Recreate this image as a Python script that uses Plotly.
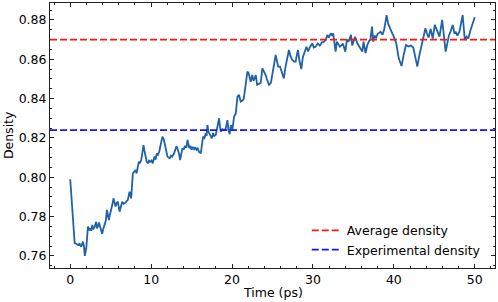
import plotly.graph_objects as go

time_ps = [
    0.0, 0.15, 0.3, 0.45, 0.55, 0.75, 0.95, 1.15, 1.36, 1.57, 1.7, 1.8, 1.98, 2.19, 2.35, 2.47, 2.6, 2.72, 2.85, 3.0,
    3.2, 3.3, 3.42, 3.55, 3.7, 3.95, 4.1, 4.24, 4.4, 4.53, 4.65, 4.78, 4.9, 5.06, 5.2, 5.35, 5.5, 5.6, 5.75, 5.89,
    6.1, 6.25, 6.42, 6.6, 6.84, 7.0, 7.12, 7.33, 7.45, 7.53, 7.74, 7.9, 8.07, 8.2, 8.35, 8.48, 8.6, 8.77, 8.9, 9.06,
    9.15, 9.3, 9.45, 9.6, 9.75, 9.88, 10.05, 10.2, 10.4, 10.55, 10.7, 10.85, 11.0, 11.2, 11.4, 11.55, 11.7, 11.85, 12.02, 12.15,
    12.3, 12.45, 12.6, 12.84, 12.95, 13.13, 13.3, 13.45, 13.58, 13.7, 13.87, 14.0, 14.2, 14.35, 14.5, 14.6, 14.7, 14.85, 15.0, 15.15,
    15.3, 15.45, 15.6, 15.75, 15.9, 16.14, 16.3, 16.42, 16.6, 16.75, 16.85, 16.96, 17.1, 17.3, 17.5, 17.65, 17.8, 17.99, 18.15, 18.4,
    18.5, 18.6, 18.8, 19.0, 19.2, 19.43, 19.55, 19.7, 19.85, 20.05, 20.25, 20.46, 20.67, 20.85, 21.07, 21.3, 21.45, 21.6, 21.75, 21.9,
    22.05, 22.2, 22.3, 22.5, 22.65, 22.8, 22.93, 23.1, 23.33, 23.54, 23.75, 23.95, 24.15, 24.3, 24.57, 24.8, 25.0, 25.18, 25.39, 25.55,
    25.7, 25.93, 26.2, 26.4, 26.6, 26.8, 27.03, 27.2, 27.4, 27.65, 27.86, 28.0, 28.15, 28.3, 28.56, 28.75, 28.95, 29.2, 29.4, 29.6,
    29.93, 30.1, 30.35, 30.6, 30.85, 31.1, 31.4, 31.6, 31.78, 31.95, 32.2, 32.4, 32.5, 32.65, 32.8, 32.95, 33.1, 33.33, 33.5, 33.7,
    34.0, 34.2, 34.4, 34.7, 34.85, 35.0, 35.2, 35.5, 35.8, 36.1, 36.25, 36.5, 36.7, 36.9, 37.1, 37.3, 37.45, 37.6, 37.8, 38.0,
    38.36, 38.6, 38.8, 39.1, 39.3, 39.55, 39.8, 40.0, 40.3, 40.6, 40.95, 41.2, 41.5, 41.8, 42.1, 42.4, 42.68, 42.9, 43.15, 43.4,
    43.6, 43.9, 44.1, 44.3, 44.55, 44.8, 45.06, 45.36, 45.64, 45.97, 46.15, 46.4, 46.6, 46.8, 47.0, 47.28, 47.5, 47.65, 47.85, 48.1,
    48.5, 48.77, 49.0, 49.2, 49.45, 49.65, 50.0,
]
density = [
    0.799, 0.790, 0.778, 0.769, 0.7665, 0.7662, 0.7656, 0.7662, 0.7647, 0.7673, 0.7650, 0.7600, 0.7639, 0.7749, 0.7730, 0.7741, 0.7728, 0.7758, 0.7735, 0.7746,
    0.7774, 0.7740, 0.7749, 0.7770, 0.7745, 0.7712, 0.7740, 0.7766, 0.7780, 0.7834, 0.7800, 0.7783, 0.7810, 0.7834, 0.7860, 0.7893, 0.7865, 0.7851, 0.7870, 0.7876,
    0.7825, 0.7850, 0.7876, 0.7865, 0.7871, 0.7880, 0.7885, 0.7927, 0.7900, 0.7893, 0.8020, 0.8030, 0.8037, 0.8020, 0.8050, 0.8079, 0.8070, 0.8088, 0.8120, 0.8164,
    0.8140, 0.8105, 0.8080, 0.8071, 0.8085, 0.8079, 0.8085, 0.8071, 0.8105, 0.8090, 0.8122, 0.8115, 0.8130, 0.8170, 0.8207, 0.8195, 0.8160, 0.8130, 0.8105, 0.8100,
    0.8097, 0.8110, 0.8105, 0.8122, 0.8140, 0.8159, 0.8140, 0.8120, 0.8088, 0.8110, 0.8148, 0.8140, 0.8160, 0.8150, 0.8190, 0.8170, 0.8148, 0.8160, 0.8140, 0.8155,
    0.8143, 0.8150, 0.8140, 0.8150, 0.8130, 0.8122, 0.8180, 0.8207, 0.8200, 0.8224, 0.8210, 0.8266, 0.8230, 0.8215, 0.8198, 0.8225, 0.8210, 0.8215, 0.8250, 0.8300,
    0.8260, 0.8232, 0.8245, 0.8240, 0.8245, 0.8291, 0.8240, 0.8220, 0.8265, 0.8244, 0.8308, 0.8325, 0.8410, 0.8420, 0.8385, 0.8390, 0.8400, 0.8444, 0.8500, 0.8537,
    0.8530, 0.8500, 0.8486, 0.8520, 0.8490, 0.8505, 0.8520, 0.8470, 0.8475, 0.8480, 0.8554, 0.8540, 0.8520, 0.8500, 0.8470, 0.8480, 0.8520, 0.8571, 0.8622, 0.8580,
    0.8563, 0.8563, 0.8520, 0.8503, 0.8560, 0.8610, 0.8647, 0.8620, 0.8600, 0.8588, 0.8588, 0.8620, 0.8647, 0.8600, 0.8550, 0.8610, 0.8640, 0.8664, 0.8640, 0.8660,
    0.8681, 0.8660, 0.8665, 0.8681, 0.8670, 0.8685, 0.8690, 0.8700, 0.8724, 0.8710, 0.8732, 0.8720, 0.8732, 0.8680, 0.8639, 0.8690, 0.8680, 0.8664, 0.8670, 0.8680,
    0.8639, 0.8700, 0.8690, 0.8724, 0.8670, 0.8690, 0.8715, 0.8680, 0.8660, 0.8639, 0.8690, 0.8631, 0.8670, 0.8690, 0.8700, 0.8766, 0.8690, 0.8720, 0.8710, 0.8730,
    0.8740, 0.8725, 0.8750, 0.8825, 0.8780, 0.8760, 0.8732, 0.8715, 0.8680, 0.8605, 0.8566, 0.8620, 0.8673, 0.8665, 0.8670, 0.8660, 0.8605, 0.8563, 0.8620, 0.8665,
    0.8698, 0.8758, 0.8730, 0.8710, 0.8755, 0.8705, 0.8775, 0.8740, 0.8715, 0.8800, 0.8740, 0.8639, 0.8680, 0.8720, 0.8740, 0.8775, 0.8730, 0.8740, 0.8720, 0.8740,
    0.8825, 0.8698, 0.8715, 0.8705, 0.8745, 0.8770, 0.8814,
]

average_density = 0.870
experimental_density = 0.824
x_tick_values = [0, 10, 20, 30, 40, 50]
y_tick_values = [0.76, 0.78, 0.80, 0.82, 0.84, 0.86, 0.88]

xlo, xhi = min(time_ps), max(time_ps)
ylo, yhi = min(density), max(density)
xpad = 0.05 * (xhi - xlo)
ypad = 0.05 * (yhi - ylo)

FONT = "DejaVu Sans"
FS = 12.5
fig = go.Figure()
fig.add_trace(go.Scatter(
    x=time_ps, y=density, mode="lines",
    line=dict(color="#1f62a8", width=1.8), showlegend=False, hoverinfo="skip",
))

for val, col, name in [(average_density, "#ff1515", "Average density"),
                       (experimental_density, "#1515ff", "Experimental density")]:
    fig.add_shape(type="line", xref="paper", x0=0, x1=1, yref="y", y0=val, y1=val,
                  line=dict(color=col, width=1.6, dash="7px,3px"),
                  showlegend=True, name=name)

axis_common = dict(
    showgrid=False, zeroline=False, showline=True, linecolor="#222", linewidth=1,
    mirror="allticks", ticks="inside", ticklen=4, tickwidth=1, tickcolor="#222",
    tickfont=dict(family=FONT, size=FS, color="black"), automargin=False,
)
fig.update_xaxes(
    range=[xlo - xpad, xhi + xpad], tickvals=x_tick_values,
    minor=dict(ticks="inside", ticklen=2, dtick=2, tick0=0, tickcolor="#222"),
    **axis_common,
)
fig.update_yaxes(
    range=[ylo - ypad, yhi + ypad], tickvals=y_tick_values, tickformat=".2f",
    minor=dict(ticks="inside", ticklen=2, dtick=0.005, tick0=0.76, tickcolor="#222"),
    **axis_common,
)
fig.add_annotation(text="Time (ps)", xref="paper", yref="paper", x=0.5, y=-0.092,
                   xanchor="center", yanchor="middle", showarrow=False,
                   font=dict(family=FONT, size=FS, color="black"))
fig.add_annotation(text="Density", xref="paper", yref="paper", x=-0.093, y=0.5,
                   xanchor="center", yanchor="middle", textangle=-90, showarrow=False,
                   font=dict(family=FONT, size=FS, color="black"))
fig.update_layout(
    width=498, height=302,
    margin=dict(l=50, r=3, t=3, b=34),
    plot_bgcolor="white", paper_bgcolor="white",
    font=dict(family=FONT, size=FS, color="black"),
    legend=dict(x=0.577, y=0.197, xanchor="left", yanchor="top",
                bgcolor="rgba(255,255,255,0)", font=dict(family=FONT, size=FS),
                tracegroupgap=0, itemwidth=30),
)
fig.write_html("out.html", config={"displayModeBar": False, "staticPlot": True},
               post_script="document.body.style.margin='0';document.body.style.overflow='hidden';")
